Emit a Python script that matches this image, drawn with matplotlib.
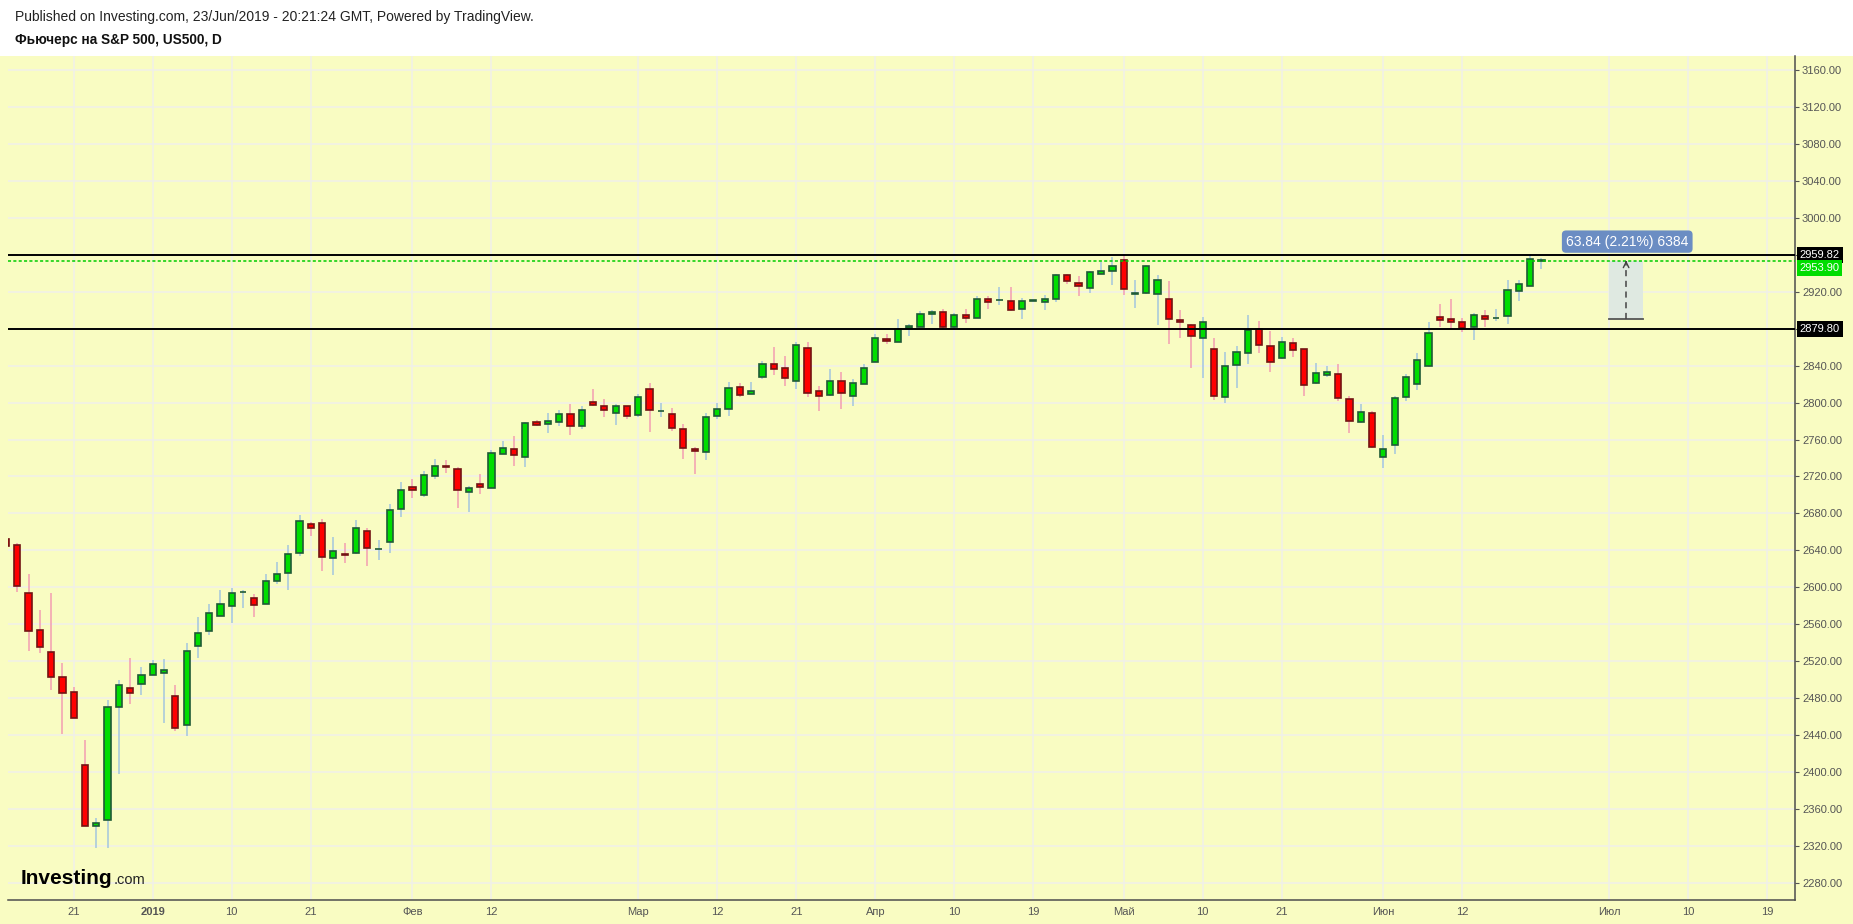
import matplotlib
matplotlib.use('Agg')
import matplotlib.pyplot as plt
import matplotlib.transforms as mtransforms
from matplotlib.patches import Rectangle
import numpy as np
import pandas as pd

plt.rcParams['font.family'] = ['Liberation Sans', 'DejaVu Sans']

# daily bars, one per weekday, first one is 13 Dec 2018 (partly hidden at the left edge)
opens = [
    2652.7, 2646.1, 2594.1, 2554.0, 2530.2, 2503.0, 2486.8, 2407.7, 2341.6, 2348.0, 2470.5, 2491.1, 2495.5,
    2505.2, 2507.4, 2482.5, 2451.0, 2536.7, 2552.9, 2569.2, 2580.0, 2594.8, 2588.7, 2581.5, 2606.4, 2615.1,
    2636.7, 2668.2, 2669.3, 2631.3, 2635.7, 2636.7, 2660.6, 2641.1, 2648.7, 2684.4,
    2708.3, 2699.6, 2720.2, 2731.0, 2727.8, 2702.9, 2711.5, 2707.2, 2744.0, 2749.5, 2741.4, 2778.6, 2777.2,
    2778.6, 2787.3, 2774.3, 2800.3, 2796.0, 2788.4, 2796.0,
    2786.2, 2814.4, 2790.9, 2787.3, 2771.0, 2749.4, 2746.1, 2785.1, 2792.7, 2816.6, 2809.0, 2827.4, 2842.3,
    2837.9, 2823.8, 2859.6, 2813.0, 2808.7, 2823.8, 2807.6, 2820.6,
    2844.4, 2869.4, 2866.1, 2881.3, 2882.4, 2896.5, 2898.6, 2882.4, 2895.4, 2892.1, 2912.7, 2910.9, 2910.6,
    2901.9, 2910.6, 2909.5, 2912.7, 2937.7, 2930.1, 2924.6, 2939.8, 2943.1,
    2955.0, 2917.8, 2919.2, 2918.1, 2912.7, 2890.0, 2884.5, 2870.1, 2858.5, 2806.1, 2840.8, 2853.8, 2879.8,
    2861.8, 2848.4, 2865.0, 2858.5, 2821.7, 2830.3, 2831.4, 2804.3, 2779.0, 2789.2,
    2741.1, 2754.1, 2806.1, 2820.2, 2839.7, 2893.2, 2891.0, 2887.8, 2882.4, 2894.3, 2891.4, 2894.3, 2921.4,
    2926.8, 2953.5,
]
highs = [
    2655.0, 2648.3, 2614.0, 2575.0, 2593.4, 2517.5, 2491.9, 2434.1, 2349.5, 2477.4, 2499.1, 2522.9, 2513.2,
    2520.8, 2521.9, 2493.7, 2539.2, 2567.4, 2581.5, 2596.6, 2599.5, 2597.4, 2592.3, 2614.3, 2627.4, 2645.8,
    2678.3, 2670.7, 2673.6, 2654.5, 2648.0, 2672.9, 2663.8, 2651.2, 2690.2, 2714.1,
    2717.3, 2726.0, 2739.0, 2738.0, 2730.3, 2709.4, 2722.7, 2748.8, 2758.0, 2763.8, 2778.6, 2781.2, 2788.8,
    2791.6, 2798.5, 2796.0, 2814.8, 2803.9, 2798.5, 2796.0,
    2809.3, 2820.9, 2799.6, 2793.8, 2776.5, 2751.5, 2788.8, 2799.6, 2822.4, 2820.9, 2822.4, 2845.0, 2860.0,
    2850.2, 2866.1, 2865.4, 2818.4, 2836.1, 2832.9, 2825.3, 2841.5,
    2874.1, 2874.1, 2890.3, 2885.6, 2899.0, 2900.1, 2901.2, 2896.8, 2901.2, 2915.3, 2915.3, 2925.0, 2925.0,
    2913.1, 2910.6, 2916.3, 2939.8, 2939.8, 2936.9, 2943.1, 2952.1, 2957.5,
    2961.5, 2933.3, 2949.6, 2938.7, 2931.2, 2900.1, 2885.6, 2893.2, 2869.7, 2854.6, 2861.1, 2894.7, 2888.2,
    2877.3, 2871.5, 2869.7, 2858.5, 2842.6, 2839.4, 2841.5, 2806.9, 2798.9, 2791.3,
    2764.6, 2806.9, 2830.7, 2853.5, 2887.1, 2906.6, 2912.0, 2891.4, 2896.8, 2900.1, 2901.2, 2932.6, 2933.3,
    2960.8, 2956.5,
]
lows = [
    2640.0, 2594.8, 2530.9, 2528.7, 2488.6, 2441.0, 2458.0, 2341.0, 2317.4, 2317.4, 2397.6, 2473.4, 2483.2,
    2505.0, 2452.8, 2444.2, 2438.8, 2523.3, 2548.2, 2569.0, 2561.2, 2577.5, 2567.7, 2581.5, 2603.9, 2597.4,
    2634.2, 2655.9, 2618.0, 2613.6, 2626.6, 2635.7, 2623.4, 2629.9, 2637.5, 2676.5,
    2697.1, 2697.8, 2717.0, 2723.5, 2686.2, 2681.9, 2701.4, 2707.2, 2744.0, 2731.7, 2730.2, 2775.0, 2767.4,
    2775.0, 2765.3, 2771.8, 2796.0, 2784.8, 2776.1, 2782.6,
    2784.8, 2768.5, 2784.8, 2769.6, 2739.3, 2723.0, 2738.2, 2781.9, 2785.1, 2805.7, 2809.0, 2826.0, 2830.0,
    2817.7, 2814.5, 2805.8, 2791.0, 2807.6, 2793.1, 2796.4, 2820.6,
    2844.4, 2863.6, 2866.0, 2872.3, 2882.4, 2885.3, 2879.1, 2879.1, 2886.4, 2892.0, 2901.9, 2906.2, 2899.7,
    2890.7, 2910.6, 2900.4, 2909.5, 2928.6, 2915.6, 2918.9, 2939.8, 2927.5,
    2916.7, 2902.6, 2918.1, 2884.2, 2863.6, 2870.1, 2837.2, 2826.7, 2802.9, 2800.0, 2815.9, 2841.9, 2853.8,
    2833.2, 2847.3, 2849.5, 2807.2, 2820.6, 2827.8, 2801.8, 2767.1, 2778.0, 2750.9,
    2729.2, 2744.4, 2801.4, 2813.7, 2838.7, 2881.7, 2879.5, 2876.6, 2867.9, 2881.7, 2888.9, 2885.3, 2910.2,
    2926.8, 2944.9,
]
closes = [
    2644.7, 2601.7, 2552.9, 2535.6, 2503.0, 2485.7, 2458.6, 2341.6, 2344.8, 2470.5, 2494.4, 2485.7, 2505.2,
    2517.2, 2510.3, 2447.8, 2531.2, 2550.8, 2572.4, 2582.2, 2594.1, 2594.8, 2580.2, 2606.4, 2614.0, 2635.7,
    2671.4, 2663.8, 2632.4, 2638.9, 2634.6, 2663.8, 2642.2, 2641.1, 2683.4, 2705.0,
    2705.0, 2721.3, 2731.0, 2730.0, 2705.0, 2707.2, 2708.3, 2745.1, 2750.6, 2743.6, 2777.6, 2776.1, 2779.7,
    2787.3, 2774.3, 2791.6, 2797.1, 2791.6, 2796.0, 2785.1,
    2805.7, 2791.6, 2790.9, 2772.1, 2750.5, 2747.2, 2784.1, 2792.7, 2815.5, 2807.9, 2812.2, 2841.5, 2836.5,
    2826.7, 2862.9, 2810.8, 2807.6, 2823.8, 2810.8, 2821.7, 2837.9,
    2870.5, 2867.2, 2880.2, 2883.5, 2896.5, 2898.6, 2882.4, 2895.4, 2892.1, 2912.7, 2909.5, 2910.9, 2900.8,
    2910.6, 2910.6, 2912.7, 2938.7, 2931.2, 2926.8, 2942.0, 2943.1, 2948.5,
    2923.6, 2917.8, 2948.5, 2933.3, 2890.7, 2887.8, 2872.3, 2887.8, 2807.2, 2840.1, 2855.3, 2879.1, 2862.5,
    2844.1, 2866.1, 2857.4, 2819.5, 2832.5, 2833.6, 2805.1, 2780.5, 2790.2, 2751.9,
    2750.1, 2805.4, 2828.2, 2846.6, 2875.9, 2889.6, 2887.4, 2880.9, 2895.4, 2891.0, 2891.4, 2922.5, 2929.0,
    2956.1, 2953.9,
]

# horizontal levels drawn on the chart
level_high = 2959.82
level_low = 2879.80
last_price = 2953.90

# range measurement tool
range_from = 2890.06
range_to = 2953.90
range_text = '63.84 (2.21%) 6384'

tick_dates = ['2018-12-21', '2019-01-01', '2019-01-10', '2019-01-21', '2019-02-01', '2019-02-12',
              '2019-03-01', '2019-03-12', '2019-03-21', '2019-04-01', '2019-04-10', '2019-04-19',
              '2019-05-01', '2019-05-10', '2019-05-21', '2019-06-03', '2019-06-12', '2019-07-01',
              '2019-07-10', '2019-07-19']
tick_labels = ['21', '2019', '10', '21', 'Фев', '12', 'Мар', '12', '21', 'Апр', '10', '19',
               'Май', '10', '21', 'Июн', '12', 'Июл', '10', '19']
y_ticks = list(range(2280, 3161, 40))

bg = '#f9fcc2'
up_fill, up_edge, up_wick = '#00dd00', '#1f5a36', '#a3c6de'
dn_fill, dn_edge, dn_wick = '#ff0000', '#731313', '#f39db2'

W, H = 1853, 924
fig = plt.figure(figsize=(W / 100, H / 100), dpi=100, facecolor='white')
fig.patches.append(Rectangle((0, 0), 1, 1 - 56 / H, transform=fig.transFigure,
                             fc=bg, ec='none', zorder=-10))
ax = fig.add_axes([8 / W, (H - 900) / H, (1795 - 8) / W, (900 - 56) / H])
ax.set_facecolor(bg)

# bar index: 0 = 14 Dec 2018, weekdays only
def bar_index(d):
    return len(pd.bdate_range('2018-12-14', d)) - 1

o = np.array(opens)
h = np.array(highs)
l = np.array(lows)
c = np.array(closes)
x = np.arange(len(o)) - 1   # first bar is 13 Dec
up = c >= o

ax.vlines(x[up], l[up], h[up], color=up_wick, lw=1.1, zorder=2)
ax.vlines(x[~up], l[~up], h[~up], color=dn_wick, lw=1.1, zorder=2)
body_lo = np.minimum(o, c)
body_h = np.maximum(np.abs(c - o), 0.5)
ax.bar(x[up], body_h[up], bottom=body_lo[up], width=0.55, color=up_fill,
       edgecolor=up_edge, linewidth=1.2, zorder=3)
ax.bar(x[~up], body_h[~up], bottom=body_lo[~up], width=0.55, color=dn_fill,
       edgecolor=dn_edge, linewidth=1.2, zorder=3)

# levels
ax.axhline(level_high, color='black', lw=1.4, zorder=4)
ax.axhline(level_low, color='black', lw=1.4, zorder=4)
ax.axhline(last_price, color='#00cc00', lw=1.1, dashes=(2, 1.5), zorder=4)

# range tool
x0, x1 = bar_index('2019-07-01'), bar_index('2019-07-01') + 3
xm = (x0 + x1) / 2
ax.add_patch(Rectangle((x0, range_from), x1 - x0, range_to - range_from,
                       fc='#dfe9e1', ec='none', zorder=1.5))
ax.plot([x0, x1], [range_from, range_from], color='#555555', lw=1.3, zorder=5)
ax.plot([xm, xm], [range_from, range_to - 1], color='#444444', lw=1.1, dashes=(4, 3), zorder=5)
ax.annotate('', xy=(xm, range_to), xytext=(xm, range_to - 5),
            arrowprops=dict(arrowstyle='->', color='#444444', lw=1.0), zorder=5)
ax.text(xm + 0.1, range_to + 20.5, range_text, ha='center', va='center', fontsize=10,
        color='white', zorder=6,
        bbox=dict(boxstyle='round,pad=0.3,rounding_size=0.3', fc='#6b8dc3', ec='none'))

# axes
ax.set_xlim(-0.82, 157.46)
ax.set_ylim(2261.1, 3175.5)
ax.set_xticks([bar_index(d) for d in tick_dates])
ax.set_xticklabels(tick_labels)
for t in ax.get_xticklabels():
    if t.get_text() == '2019':
        t.set_fontweight('bold')
ax.set_yticks(y_ticks)
ax.set_yticklabels([f'{v:.2f}' for v in y_ticks])
ax.yaxis.tick_right()
ax.tick_params(axis='x', length=0, pad=5, labelsize=8, colors='#555555')
ax.tick_params(axis='y', length=3, pad=2, labelsize=8, colors='#555555', width=0.8)
ax.grid(True, color='#f0f0ea', lw=1.1, zorder=0)
ax.set_axisbelow(True)
for s in ['top', 'left']:
    ax.spines[s].set_visible(False)
for s in ['right', 'bottom']:
    ax.spines[s].set_color('#4d4d4d')
    ax.spines[s].set_linewidth(1.1)

# price boxes on the scale
trans = mtransforms.blended_transform_factory(ax.transAxes, ax.transData)
for price, txt, fc in [(level_high, f'{level_high:.2f}', 'black'),
                       (2945.8, f'{last_price:.2f}', '#00dd00'),
                       (level_low, f'{level_low:.2f}', 'black')]:
    ax.text(1.0026, price, txt, transform=trans, ha='left', va='center', fontsize=8,
            color='white', clip_on=False, zorder=10,
            bbox=dict(boxstyle='square,pad=0.25', fc=fc, ec='none'))

# header
fig.text(15 / W, 1 - 16.5 / H, 'Published on Investing.com, 23/Jun/2019 - 20:21:24 GMT, Powered by TradingView.',
         fontsize=10, va='center', color='#222222')
fig.text(15 / W, 1 - 40 / H, 'Фьючерс на S&P 500, US500, D', fontsize=9.8, fontweight='bold',
         va='center', color='#111111')

# logo: ".com" placed right after "Investing"
logo = fig.text(21 / W, 1 - 884 / H, 'Investing', fontsize=15, fontweight='bold', color='black',
                va='baseline')
renderer = fig.canvas.get_renderer()
bb = logo.get_window_extent(renderer=renderer)
fig.text((bb.x1 + 1) / W, 1 - 884 / H, '.com', fontsize=10.5, color='#222222', va='baseline')

fig.savefig('out.png', dpi=100, facecolor=fig.get_facecolor())
